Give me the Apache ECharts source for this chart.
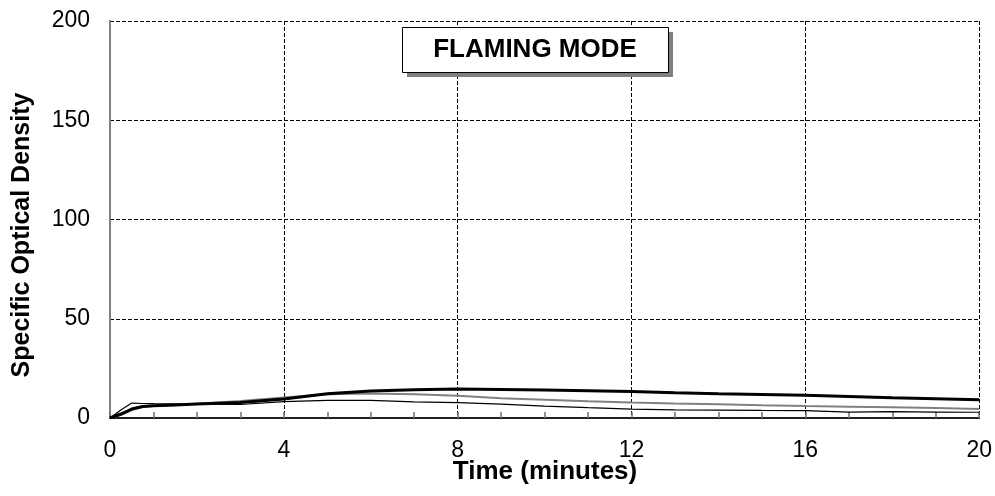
<!DOCTYPE html>
<html>
<head>
<meta charset="utf-8">
<script src="https://cdn.jsdelivr.net/npm/echarts@6/dist/echarts.min.js"></script>
<style>
  html, body { margin: 0; padding: 0; background: #fff; }
  #chart { width: 995px; height: 496px; }
</style>
</head>
<body>
<div id="chart"></div>
<script>
// time axis (minutes) shared by the three runs
var timeMin = [0, 0.25, 0.5, 0.75, 1, 1.5, 2, 3, 4, 5, 6, 7, 8, 9, 10, 11, 12, 13, 14, 15, 16, 17, 18, 19, 20];
// thick black run
var run1 = [0, 2, 4.5, 5.8, 6.2, 6.6, 7, 7.8, 9.6, 12.2, 13.6, 14.2, 14.6, 14.4, 14.1, 13.7, 13.3, 12.7, 12.2, 11.8, 11.4, 10.8, 10.2, 9.7, 9.2];
// grey run
var run2 = [0, 1.5, 4, 5.5, 6, 6.5, 7.2, 8.6, 10.3, 12, 12.4, 12, 11.2, 10, 9.2, 8.4, 7.8, 7.3, 6.9, 6.4, 6.0, 5.7, 5.4, 5, 4.5];
// thin black run
var run3 = [0, 4, 7.5, 7.3, 7.2, 7.1, 7, 6.8, 8.2, 8.9, 8.9, 8.1, 7.7, 7.0, 6, 5.2, 4.5, 4.1, 4, 3.8, 3.7, 3, 3.2, 3, 2.9];

var xTitle = 'Time (minutes)';
var yTitle = 'Specific Optical Density';
var boxLabel = 'FLAMING MODE';

function pairs(vals) {
  var out = [];
  for (var i in timeMin) {
    out.push([timeMin[i], vals[i]]);
  }
  return out;
}

var fontFam = '"Liberation Sans", Arial, sans-serif';
var gridDash = [4, 2];

var chart = echarts.init(document.getElementById('chart'), null, { renderer: 'canvas' });

var option = {
  animation: false,
  backgroundColor: '#fff',
  grid: { left: 110, top: 21, right: 15, bottom: 78, containLabel: false },
  xAxis: [{
    type: 'value',
    min: 0, max: 20, interval: 4,
    axisLine: { show: true, lineStyle: { color: '#808080', width: 2 } },
    axisTick: { show: true, inside: true, length: 6, lineStyle: { color: '#707070', width: 1.5 } },
    minorTick: { show: true, splitNumber: 4, length: 6, lineStyle: { color: '#707070', width: 1.5 } },
    axisLabel: { margin: 21, fontSize: 23, color: '#000', fontFamily: fontFam },
    splitLine: { show: true, lineStyle: { color: '#000', width: 1, type: gridDash } }
  }, {
    type: 'value', position: 'top',
    min: 0, max: 20, interval: 4,
    axisLine: { show: true, lineStyle: { color: '#000', width: 1.5 } },
    axisTick: { show: false }, axisLabel: { show: false }, splitLine: { show: false }
  }],
  yAxis: [{
    type: 'value',
    min: 0, max: 200, interval: 50,
    axisLine: { show: true, lineStyle: { color: '#000', width: 1.5 } },
    axisTick: { show: false },
    axisLabel: { margin: 20, fontSize: 23, color: '#000', fontFamily: fontFam },
    splitLine: { show: true, lineStyle: { color: '#000', width: 1, type: gridDash } }
  }, {
    type: 'value', position: 'right',
    min: 0, max: 200, interval: 50,
    axisLine: { show: true, lineStyle: { color: '#808080', width: 2 } },
    axisTick: { show: false }, axisLabel: { show: false }, splitLine: { show: false }
  }],
  series: [{
    name: 'run 1', type: 'line', showSymbol: false, symbol: 'none',
    lineStyle: { color: '#000', width: 3 },
    data: pairs(run1), z: 4
  }, {
    name: 'run 2', type: 'line', showSymbol: false, symbol: 'none',
    lineStyle: { color: '#808080', width: 2 },
    data: pairs(run2), z: 3
  }, {
    name: 'run 3', type: 'line', showSymbol: false, symbol: 'none',
    lineStyle: { color: '#000', width: 1.2 },
    data: pairs(run3), z: 3
  }],
  graphic: [
    { type: 'rect', left: 407, top: 32, z: 10, shape: { width: 266, height: 45 }, style: { fill: '#808080' } },
    { type: 'rect', left: 402, top: 27, z: 11, shape: { width: 266, height: 45 }, style: { fill: '#fff', stroke: '#000', lineWidth: 1 } },
    { type: 'text', x: 535, y: 50, z: 12, style: { text: boxLabel, fill: '#000', font: 'bold 26px ' + fontFam, align: 'center', verticalAlign: 'middle' } },
    { type: 'text', x: 545, y: 472, z: 12, style: { text: xTitle, fill: '#000', font: 'bold 26px ' + fontFam, align: 'center', verticalAlign: 'middle' } },
    { type: 'text', x: 22, y: 235, rotation: Math.PI / 2, z: 12, style: { text: yTitle, fill: '#000', font: 'bold 25px ' + fontFam, align: 'center', verticalAlign: 'middle' } }
  ]
};

chart.setOption(option);
</script>
</body>
</html>
